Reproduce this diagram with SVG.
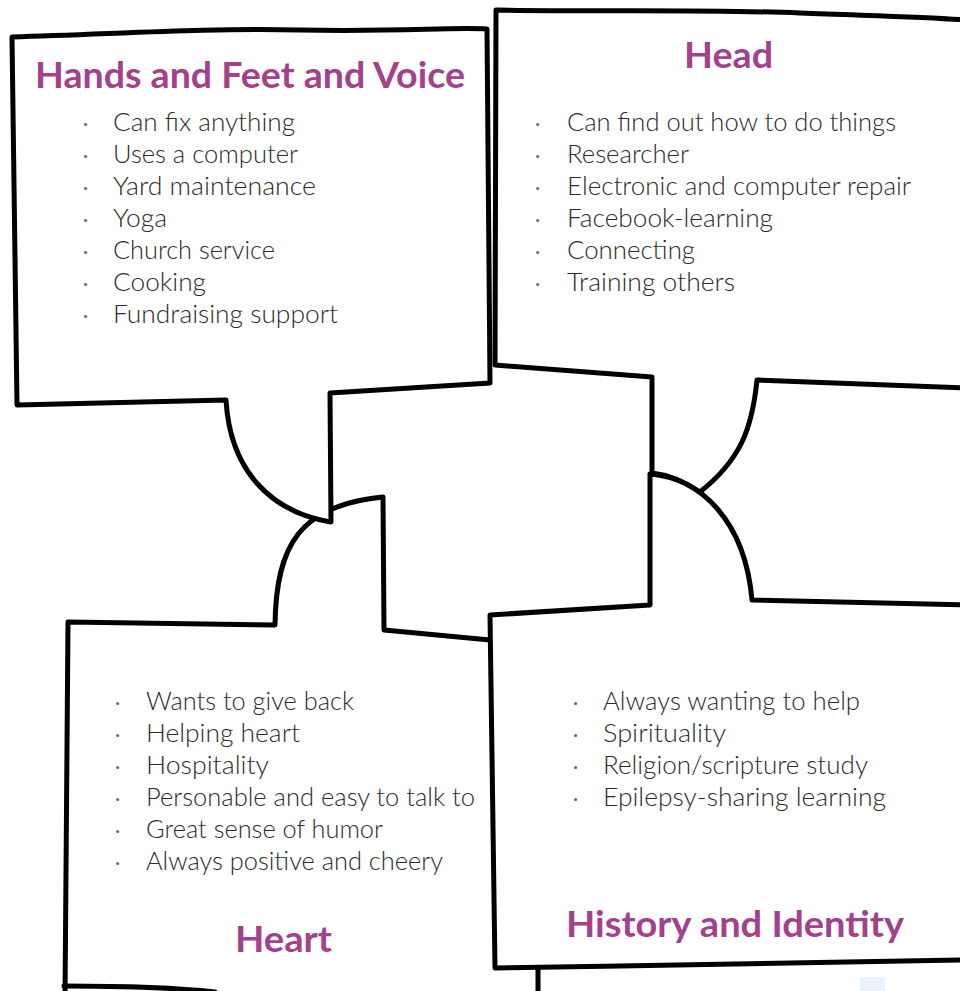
<svg xmlns="http://www.w3.org/2000/svg" width="960" height="991" viewBox="0 0 960 991">
<style>
.box{fill:#fff;stroke:#000;stroke-width:5;stroke-linejoin:round;stroke-linecap:round}
.ln{fill:none;stroke:#000;stroke-width:5;stroke-linecap:round}
.t{font-family:Lato,"Open Sans",sans-serif;font-weight:bold;font-size:37px;fill:#A3418A}
.b{font-family:Lato,"Open Sans",sans-serif;font-weight:300;font-size:25px;fill:#2b2b2b}
.d{font-family:Lato,"Open Sans",sans-serif;font-size:20px;fill:#666}
</style>
<rect width="960" height="991" fill="#fff"/>
<rect x="860" y="977" width="25" height="14" fill="#EAF3FC"/>
<g id="heart">
<path class="box" d="M65,998 L68,622 L275,625 C276,545 300,505 383,497 L384,630 L490,640 L538,640 L538,998 Z"/>
<path class="ln" d="M64,986 C120,986 170,987 215,992"/>
<text class="d" x="115" y="709">·</text><text class="b" x="146" y="710" textLength="208" lengthAdjust="spacingAndGlyphs">Wants to give back</text>
<text class="d" x="115" y="741">·</text><text class="b" x="146" y="742" textLength="154" lengthAdjust="spacingAndGlyphs">Helping heart</text>
<text class="d" x="115" y="773">·</text><text class="b" x="146" y="774" textLength="123" lengthAdjust="spacingAndGlyphs">Hospitality</text>
<text class="d" x="115" y="805">·</text><text class="b" x="146" y="806" textLength="329" lengthAdjust="spacingAndGlyphs">Personable and easy to talk to</text>
<text class="d" x="115" y="837">·</text><text class="b" x="146" y="838" textLength="237" lengthAdjust="spacingAndGlyphs">Great sense of humor</text>
<text class="d" x="115" y="869">·</text><text class="b" x="146" y="870" textLength="297" lengthAdjust="spacingAndGlyphs">Always positive and cheery</text>
<text class="t" x="235" y="952" textLength="97" lengthAdjust="spacingAndGlyphs">Heart</text>
</g>
<g id="hands">
<path class="box" d="M12,37 C120,34 200,28 300,30 C400,32 450,27 487,29 L490,383 L330,393 L331,522 C270,512 230,470 226,400 L17,405 Z"/>
<text class="t" x="35" y="88" textLength="430" lengthAdjust="spacingAndGlyphs">Hands and Feet and Voice</text>
<text class="d" x="83" y="130">·</text><text class="b" x="113" y="131" textLength="182" lengthAdjust="spacingAndGlyphs">Can fix anything</text>
<text class="d" x="83" y="162">·</text><text class="b" x="113" y="163" textLength="185" lengthAdjust="spacingAndGlyphs">Uses a computer</text>
<text class="d" x="83" y="194">·</text><text class="b" x="113" y="195" textLength="203" lengthAdjust="spacingAndGlyphs">Yard maintenance</text>
<text class="d" x="83" y="226">·</text><text class="b" x="113" y="227" textLength="54" lengthAdjust="spacingAndGlyphs">Yoga</text>
<text class="d" x="83" y="258">·</text><text class="b" x="113" y="259" textLength="162" lengthAdjust="spacingAndGlyphs">Church service</text>
<text class="d" x="83" y="290">·</text><text class="b" x="113" y="291" textLength="93" lengthAdjust="spacingAndGlyphs">Cooking</text>
<text class="d" x="83" y="322">·</text><text class="b" x="113" y="323" textLength="225" lengthAdjust="spacingAndGlyphs">Fundraising support</text>
</g>
<g id="head">
<path class="box" d="M496,10 C600,12 700,9 800,13 C880,16 930,17 966,20 L966,388 L757,380 C752,430 740,460 700,492 C685,482 670,475 652,473 L652,377 L495,365 Z"/>
<text class="t" x="684" y="68" textLength="89" lengthAdjust="spacingAndGlyphs">Head</text>
<text class="d" x="535" y="130">·</text><text class="b" x="567" y="131" textLength="329" lengthAdjust="spacingAndGlyphs">Can find out how to do things</text>
<text class="d" x="535" y="162">·</text><text class="b" x="567" y="163" textLength="122" lengthAdjust="spacingAndGlyphs">Researcher</text>
<text class="d" x="535" y="194">·</text><text class="b" x="567" y="195" textLength="344" lengthAdjust="spacingAndGlyphs">Electronic and computer repair</text>
<text class="d" x="535" y="226">·</text><text class="b" x="567" y="227" textLength="206" lengthAdjust="spacingAndGlyphs">Facebook-learning</text>
<text class="d" x="535" y="258">·</text><text class="b" x="567" y="259" textLength="128" lengthAdjust="spacingAndGlyphs">Connecting</text>
<text class="d" x="535" y="290">·</text><text class="b" x="567" y="291" textLength="168" lengthAdjust="spacingAndGlyphs">Training others</text>
</g>
<g id="history">
<path class="box" d="M490,615 L650,605 L650,474 C700,478 745,520 752,600 L966,605 L966,960 C800,962 650,966 495,968 Z"/>
<text class="d" x="573" y="709">·</text><text class="b" x="603" y="710" textLength="257" lengthAdjust="spacingAndGlyphs">Always wanting to help</text>
<text class="d" x="573" y="741">·</text><text class="b" x="603" y="742" textLength="123" lengthAdjust="spacingAndGlyphs">Spirituality</text>
<text class="d" x="573" y="773">·</text><text class="b" x="603" y="774" textLength="265" lengthAdjust="spacingAndGlyphs">Religion/scripture study</text>
<text class="d" x="573" y="805">·</text><text class="b" x="603" y="806" textLength="283" lengthAdjust="spacingAndGlyphs">Epilepsy-sharing learning</text>
<text class="t" x="566" y="937" textLength="338" lengthAdjust="spacingAndGlyphs">History and Identity</text>
</g>
<g id="connectors"></g>
</svg>
